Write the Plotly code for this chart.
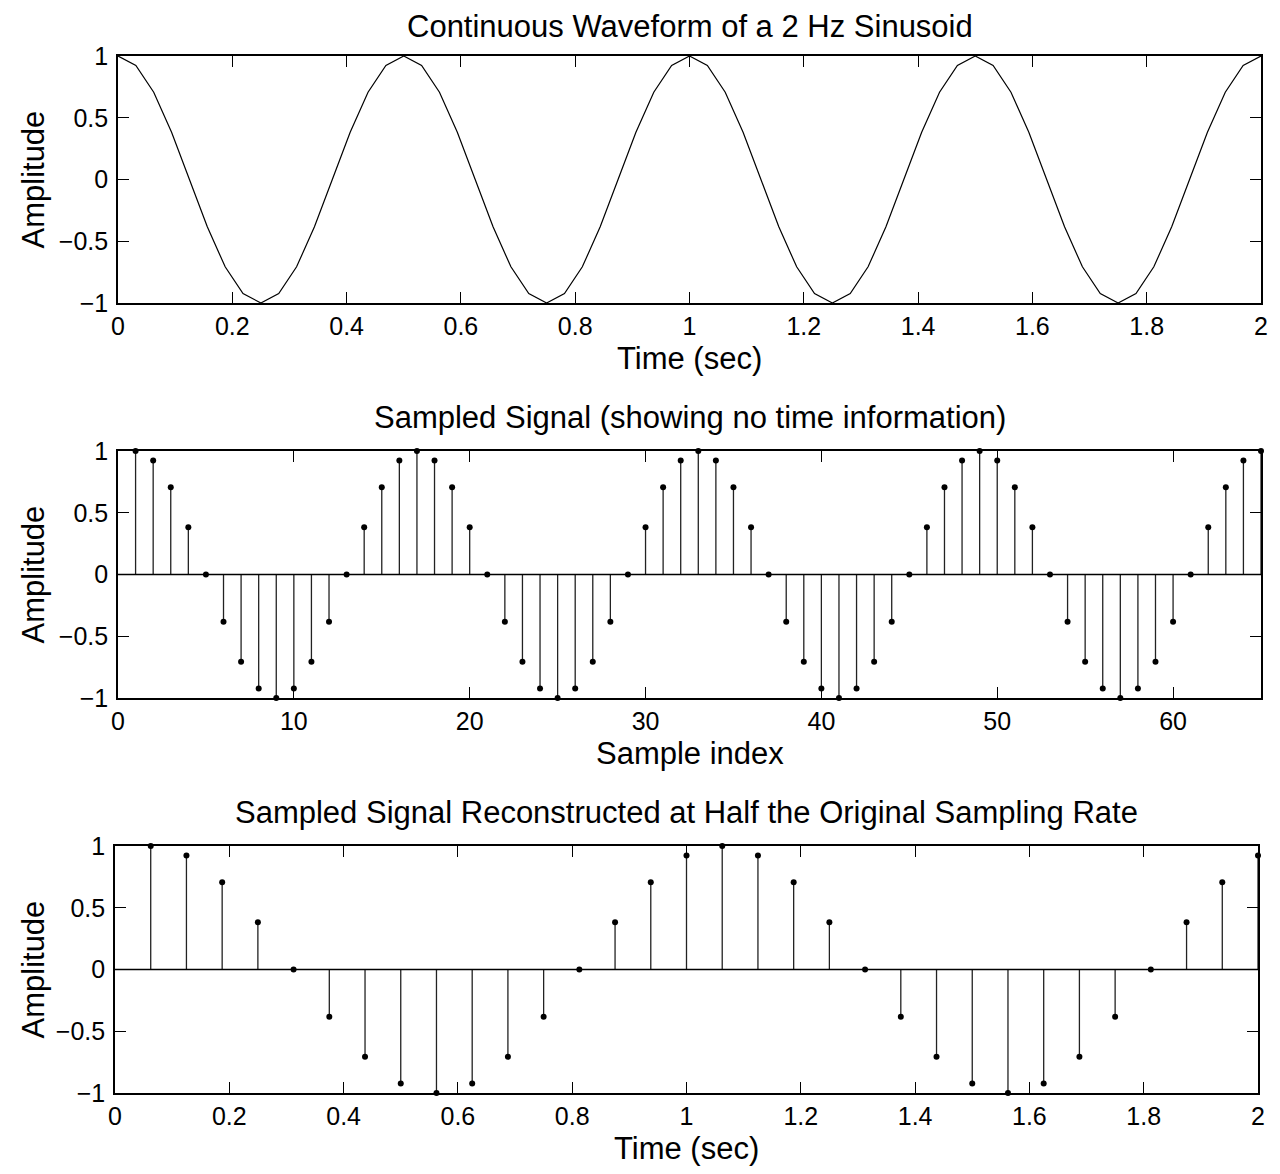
import plotly.graph_objects as go

# samples of the 2 Hz sinusoid (32 samples per second)
sample_rate_hz = 32
amplitude = [
    1.0, 0.924, 0.707, 0.383, 0.0, -0.383, -0.707, -0.924,
    -1.0, -0.924, -0.707, -0.383, 0.0, 0.383, 0.707, 0.924,
    1.0, 0.924, 0.707, 0.383, 0.0, -0.383, -0.707, -0.924,
    -1.0, -0.924, -0.707, -0.383, 0.0, 0.383, 0.707, 0.924,
    1.0, 0.924, 0.707, 0.383, 0.0, -0.383, -0.707, -0.924,
    -1.0, -0.924, -0.707, -0.383, 0.0, 0.383, 0.707, 0.924,
    1.0, 0.924, 0.707, 0.383, 0.0, -0.383, -0.707, -0.924,
    -1.0, -0.924, -0.707, -0.383, 0.0, 0.383, 0.707, 0.924,
    1.0,
]
sample_index = list(range(1, len(amplitude) + 1))
time_sec = [(n - 1) / sample_rate_hz for n in sample_index]

# first 32 samples played back at half the rate
half_amp = amplitude[:32]
half_time = [n / (sample_rate_hz / 2) for n in range(1, len(half_amp) + 1)]

titles = ["Continuous Waveform of a 2 Hz Sinusoid",
          "Sampled Signal (showing no time information)",
          "Sampled Signal Reconstructed at Half the Original Sampling Rate"]
xlabels = ["Time (sec)", "Sample index", "Time (sec)"]

FONT = "Liberation Sans"
OFF = 8  # page body margin
W, H = 1280 - 2 * OFF, 1174 - 2 * OFF


def px(p):
    return (p - OFF) / W


def py(p):
    return 1 - (p - OFF) / H


def stems(x, y):
    sx, sy = [], []
    for a, b in zip(x, y):
        sx += [a, a, None]
        sy += [0, b, None]
    return sx, sy


fig = go.Figure()

fig.add_trace(go.Scatter(x=time_sec, y=amplitude, mode="lines",
                         line=dict(color="black", width=1.2),
                         xaxis="x", yaxis="y", showlegend=False))

sx, sy = stems(sample_index, amplitude)
fig.add_trace(go.Scatter(x=sx, y=sy, mode="lines", line=dict(color="#222", width=1.3),
                         xaxis="x2", yaxis="y2", showlegend=False))
fig.add_trace(go.Scatter(x=sample_index, y=amplitude, mode="markers", cliponaxis=False,
                         marker=dict(color="black", size=6),
                         xaxis="x2", yaxis="y2", showlegend=False))

sx, sy = stems(half_time, half_amp)
fig.add_trace(go.Scatter(x=sx, y=sy, mode="lines", line=dict(color="#222", width=1.3),
                         xaxis="x3", yaxis="y3", showlegend=False))
fig.add_trace(go.Scatter(x=half_time, y=half_amp, mode="markers", cliponaxis=False,
                         marker=dict(color="black", size=6),
                         xaxis="x3", yaxis="y3", showlegend=False))

# plot boxes in page pixels: left, right, top, bottom
boxes = [(118, 1261, 56, 303), (118, 1261, 451, 698), (115, 1258, 846, 1093)]
title_gap = [29, 34, 34]
xranges = [[0, 2], [0, 65], [0, 2]]
xticks = [[i / 5 for i in range(11)], list(range(0, 61, 10)), [i / 5 for i in range(11)]]

axis_style = dict(showline=True, linecolor="black", linewidth=1.6, mirror="ticks",
                  ticks="inside", ticklen=11, tickwidth=1.3, tickcolor="black",
                  showgrid=False, zeroline=False, automargin=False,
                  tickfont=dict(family=FONT, size=25, color="black"))

layout = {}
annotations = []
for i, (l, r, t, b) in enumerate(boxes):
    sfx = "" if i == 0 else str(i + 1)
    layout["xaxis" + sfx] = dict(axis_style, domain=[px(l), px(r)], range=xranges[i],
                                 tickvals=xticks[i], anchor="y" + sfx)
    layout["yaxis" + sfx] = dict(axis_style, domain=[py(b), py(t)], range=[-1, 1],
                                 tickvals=[-1, -0.5, 0, 0.5, 1], anchor="x" + sfx,
                                 ticklabelstandoff=3)
    cx = px((l + r) / 2)
    annotations.append(dict(text=titles[i], x=cx, y=py(t - title_gap[i]), xref="paper",
                            yref="paper", showarrow=False, xanchor="center", yanchor="middle",
                            font=dict(family=FONT, size=31, color="black")))
    annotations.append(dict(text=xlabels[i], x=cx, y=py(b + 55), xref="paper", yref="paper",
                            showarrow=False, xanchor="center", yanchor="middle",
                            font=dict(family=FONT, size=31, color="black")))
    annotations.append(dict(text="Amplitude", x=px(33), y=py((t + b) / 2), xref="paper",
                            yref="paper", showarrow=False, textangle=-90,
                            xanchor="center", yanchor="middle",
                            font=dict(family=FONT, size=31, color="black")))

# stem baselines at zero
shapes = []
for sfx in ["2", "3"]:
    shapes.append(dict(type="line", xref="x" + sfx + " domain", yref="y" + sfx,
                       x0=0, x1=1, y0=0, y1=0, line=dict(color="black", width=1.3)))

fig.update_layout(width=W, height=H, margin=dict(l=0, r=0, t=0, b=0),
                  paper_bgcolor="white", plot_bgcolor="white",
                  annotations=annotations, shapes=shapes, **layout)

fig.write_html("out.html")
